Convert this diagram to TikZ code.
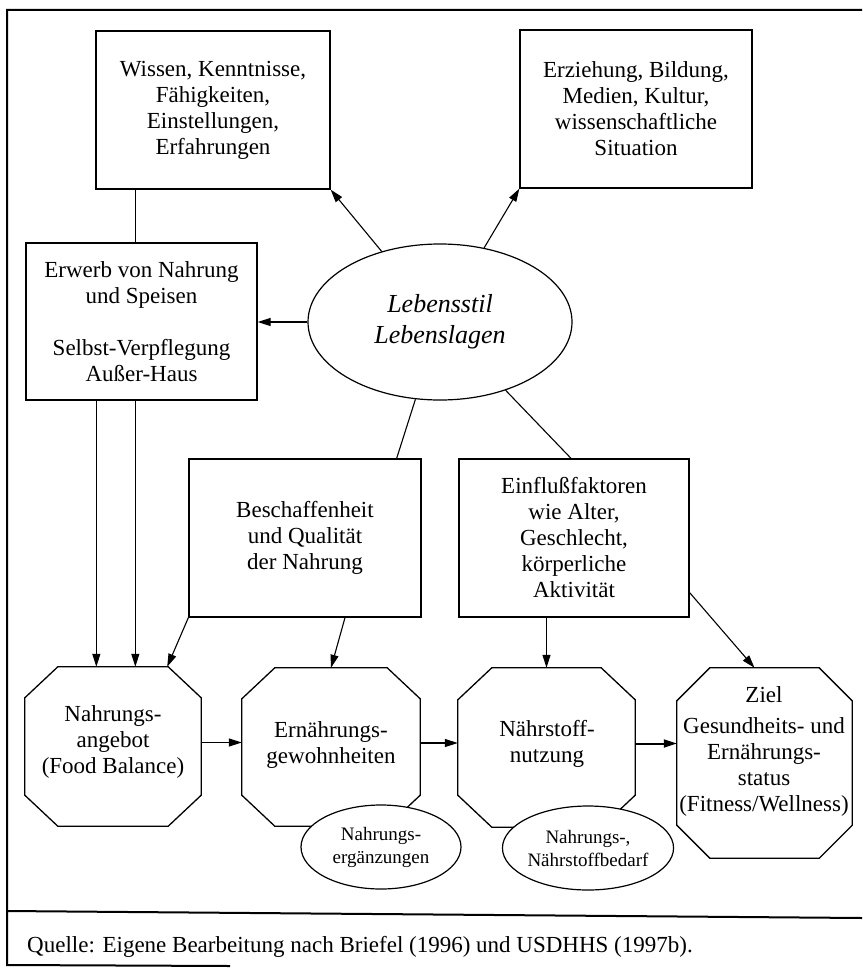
\documentclass[tikz,border=0pt]{standalone}
\usepackage{fontspec}
\setmainfont{Liberation Serif}
\usetikzlibrary{arrows.meta,calc,shapes.geometric}
\newcommand\octpath[3]{%
  \draw[octline] ([xshift=#2]#1.north west) -- ([xshift=-#2]#1.north east)
    -- ([yshift=-#3]#1.north east) -- ([yshift=#3]#1.south east)
    -- ([xshift=-#2]#1.south east) -- ([xshift=#2]#1.south west)
    -- ([yshift=#3]#1.south west) -- ([yshift=-#3]#1.north west) -- cycle;}
\begin{document}
\begin{tikzpicture}[x=1pt,y=-1pt,
  every node/.style={font=\fontsize{23}{26}\selectfont, align=center, inner sep=0pt},
  boxnode/.style={draw, line width=1.3pt},
  octnode/.style={inner sep=0pt},
  octline/.style={line width=1.3pt, line join=miter},
  ovalnode/.style={ellipse, draw, line width=1.2pt, fill=white, minimum width=160pt, minimum height=84pt, font=\fontsize{19}{23}\selectfont},
  arr/.style={line width=1.1pt, -{Triangle[length=13pt,width=8pt]}},
  conn/.style={line width=1.1pt},
  framel/.style={line width=2pt}
]
\useasboundingbox (0,0) rectangle (862,971);

% frame
\draw[framel] (862,10) -- (7,10) -- (7,965) -- (230,966);
\draw[framel] (7,911) -- (862,918);

% boxes
\node[boxnode, minimum width=234pt, minimum height=158pt] (wissen) at (213,110)
  {Wissen, Kenntnisse,\\Fähigkeiten,\\Einstellungen,\\Erfahrungen};
\node[boxnode, minimum width=232pt, minimum height=158pt] (erz) at (636,109)
  {Erziehung, Bildung,\\Medien, Kultur,\\wissenschaftliche\\Situation};
\node[boxnode, minimum width=231pt, minimum height=157pt] (erwerb) at (141.5,321.5)
  {Erwerb von Nahrung\\und Speisen\\[26pt]Selbst-Verpflegung\\Außer-Haus};
\node[boxnode, minimum width=232pt, minimum height=158pt] (besch) at (305,538)
  {Beschaffenheit\\und Qualität\\der Nahrung};
\node[boxnode, minimum width=230pt, minimum height=158pt] (einfl) at (574,538)
  {Einflußfaktoren\\wie Alter,\\Geschlecht,\\körperliche\\Aktivität};

% central ellipse
\node[ellipse, draw, line width=1.2pt, minimum width=264pt, minimum height=156pt,
  font=\fontsize{26}{31}\selectfont\itshape] (ell) at (440,322) {Lebensstil\\Lebenslagen};

% octagons
\node[octnode, minimum width=176pt, minimum height=159pt] (o1) at (113,746.5) {};
\node[octnode, minimum width=178pt, minimum height=158pt] (o2) at (331,747) {};
\node[octnode, minimum width=177pt, minimum height=159pt] (o3) at (546.5,747.5) {};
\node[octnode, minimum width=175pt, minimum height=190pt] (o4) at (764.5,763) {};
\octpath{o1}{33pt}{31pt}
\octpath{o2}{33pt}{31pt}
\octpath{o3}{34pt}{32pt}
\octpath{o4}{33pt}{33pt}
\node (t1) at (113,741.5) {Nahrungs-\\angebot\\(Food Balance)};
\node (t2) at (331,745) {Ernährungs-\\gewohnheiten};
\node (t3) at (547,744) {Nährstoff-\\nutzung};
\node (t4) at (764,751.5) {Ziel\\[5pt]Gesundheits- und\\Ernährungs-\\status\\(Fitness/Wellness)};

% small ovals
\node[ovalnode] (e1) at (381,847) {Nahrungs-\\ergänzungen};
\node[ovalnode] (e2) at (588,848) {Nahrungs-,\\Nährstoffbedarf};

% connectors
\draw[arr] (ell) -- (wissen.south east);
\draw[arr] (ell) -- (erz.south west);
\draw[arr] (ell.west) -- (ell.west -| erwerb.east);
\draw[conn] ([xshift=40pt]wissen.south west) -- ([xshift=40pt]wissen.south west |- erwerb.north);
\draw[conn] (ell) -- ([xshift=-25pt]besch.north east);
\draw[conn] (ell) -- ([xshift=-3pt]einfl.north);
\draw[arr] ([xshift=71pt]erwerb.south west) -- ([xshift=71pt]erwerb.south west |- o1.north);
\draw[arr] ([xshift=110pt]erwerb.south west) -- ([xshift=110pt]erwerb.south west |- o1.north);
\draw[arr] (besch.south west) -- ([xshift=-34pt]o1.north east);
\draw[arr] ([xshift=40pt]besch.south) -- (o2.north);
\draw[arr] (o3.north |- einfl.south) -- (o3.north);
\draw[arr] ([yshift=25pt]einfl.south east) -- ([xshift=-10pt]o4.north);
\draw[arr] ([yshift=4pt]o1.east) -- ([yshift=4pt]o1.east -| o2.west);
\draw[arr] ([yshift=4pt]o2.east) -- ([yshift=4pt]o2.east -| o3.west);
\draw[arr, line width=2pt] ([yshift=4pt]o3.east) -- ([yshift=4pt]o3.east -| o4.west);

% caption
\node[anchor=west] (cap) at (27,947) {Quelle: Eigene Bearbeitung nach Briefel (1996) und USDHHS (1997b).};
\end{tikzpicture}
\end{document}
